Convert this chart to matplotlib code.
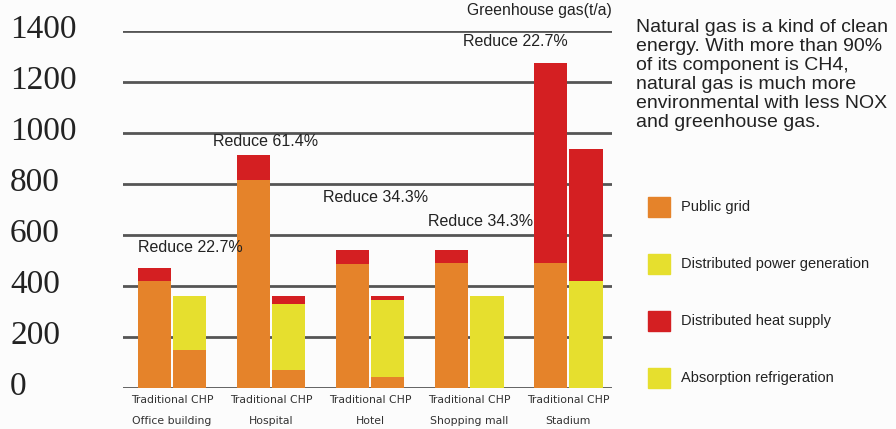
import numpy as np
import matplotlib.pyplot as plt
from matplotlib.patches import Rectangle

# data (t/a)
places = ["Office building", "Hospital", "Hotel", "Shopping mall", "Stadium"]
trad_grid = [420, 815, 486, 489, 489]
trad_heat = [52, 98, 55, 52, 785]
chp_grid = [149, 71, 44, 0, 0]
chp_power = [213, 257, 301, 362, 419]
chp_heat = [0, 34, 17, 0, 518]
reduce_txt = ["Reduce 22.7%", "Reduce 61.4%", "Reduce 34.3%", "Reduce 34.3%", "Reduce 22.7%"]
yticks = [0, 200, 400, 600, 800, 1000, 1200, 1400]

orange = "#E5832A"
yellow = "#E6DF2E"
red = "#D41F22"

fig = plt.figure(figsize=(8.96, 4.29), dpi=100)
fig.patch.set_facecolor("#FCFCFC")
ax = fig.add_axes([123/896, 1-388/429, (612-123)/896, (388-31)/429])
ax.set_facecolor("none")
ax.set_xlim(-0.495, 4.44)
ax.set_ylim(0, 1400)

for y in yticks:
    ax.axhline(y, color="#555555", lw=2, zorder=1)

x = np.arange(len(places))
w = 0.335
xt = x - 0.178
xc = x + 0.178
ax.bar(xt, trad_grid, w, color=orange, zorder=2)
ax.bar(xt, trad_heat, w, bottom=trad_grid, color=red, zorder=2)
ax.bar(xc, chp_grid, w, color=orange, zorder=2)
ax.bar(xc, chp_power, w, bottom=chp_grid, color=yellow, zorder=2)
ax.bar(xc, chp_heat, w, bottom=np.add(chp_grid, chp_power), color=red, zorder=2)

for s in ax.spines.values():
    s.set_visible(False)
ax.set_xticks([])
ax.set_yticks([])

# y tick labels
for y in yticks:
    fig.text(10/896, ax.transData.transform((0, y))[1]/429 + 0.003, str(y),
             family="Liberation Serif", fontsize=24, color="#222222",
             ha="left", va="center")

# reduce annotations (pixel positions of text left edge / centre y)
ann_pos = [(138, 248), (213, 142), (323, 198), (428, 222), (463, 42)]
for (px, py), t in zip(ann_pos, reduce_txt):
    fig.text(px/896, 1-py/429, t, fontsize=11.5, family="Liberation Sans",
             color="#222222", ha="left", va="center")
fig.text(612/896, 1-11/429, "Greenhouse gas(t/a)", fontsize=11.3,
         family="Liberation Sans", color="#222222", ha="right", va="center")

# x labels
for i, p in enumerate(places):
    xp = ax.transData.transform((x[i], 0))[0]/896
    fig.text(xp, 1-400/429, "Traditional CHP", fontsize=7.8, color="#333333",
             ha="center", va="center")
    fig.text(xp, 1-421/429, p, fontsize=7.8, color="#333333",
             ha="center", va="center")

# side text
fig.text(636/896, 1-19/429,
         "Natural gas is a kind of clean\nenergy. With more than 90%\nof its component is CH4,\n"
         "natural gas is much more\nenvironmental with less NOX\nand greenhouse gas.",
         fontsize=14, family="Liberation Sans", color="#222222",
         ha="left", va="top", linespacing=1.16)

legend_names = ["Public grid", "Distributed power generation",
                "Distributed heat supply", "Absorption refrigeration"]
legend_cols = [orange, yellow, red, yellow]
legend_y = [207, 264, 321, 378]
for n, c, ly in zip(legend_names, legend_cols, legend_y):
    fig.patches.append(Rectangle((648/896, 1-(ly+10)/429), 22/896, 20/429,
                                 transform=fig.transFigure, color=c))
    fig.text(681/896, 1-ly/429, n, fontsize=10.5, family="Liberation Sans",
             color="#222222", ha="left", va="center")

fig.savefig("out.png", dpi=100, facecolor=fig.get_facecolor())
